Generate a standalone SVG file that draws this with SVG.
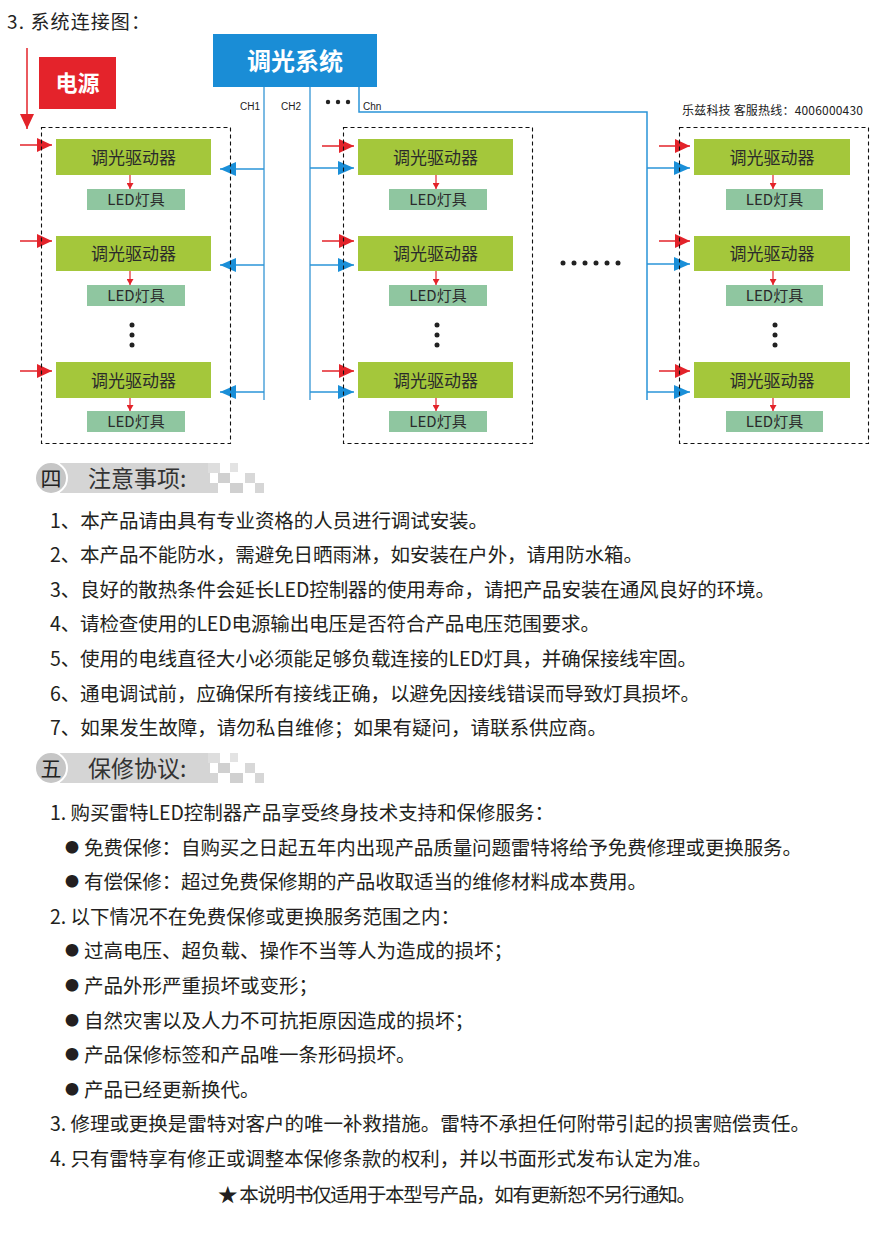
<svg xmlns="http://www.w3.org/2000/svg" xmlns:xlink="http://www.w3.org/1999/xlink" width="874" height="1233" viewBox="0 0 874 1233">
<style>
text{font-family:"Noto Sans CJK SC","Noto Sans",sans-serif;}
.drv{fill:#a4c73b;}
.led{fill:#8fc6a0;}
.dtx{font-size:17px;fill:#2b2b2b;text-anchor:middle;}
.ltx{font-size:15px;fill:#2b2b2b;text-anchor:middle;}
.dash{fill:none;stroke:#111;stroke-width:1.1;stroke-dasharray:4 3;}
.bl{stroke:#2a94d8;stroke-width:1.5;fill:none;}
.blv{stroke:#5aa9dc;stroke-width:1.6;fill:none;}
.rd{stroke:#e3232a;stroke-width:1.5;fill:none;}
.rds{stroke:#e3232a;stroke-width:1.2;fill:none;}
.ch{font-family:"Liberation Sans",Arial,sans-serif;font-size:10px;fill:#222;}
.body{font-size:19.5px;fill:#231f20;}
.hd{font-size:23px;fill:#333;}
.hn{font-size:21px;fill:#222;text-anchor:middle;}
.bul{font-size:14px;fill:#231f20;}
.dot{fill:#222;}
</style>
<defs>
<marker id="ahR" markerUnits="userSpaceOnUse" markerWidth="16" markerHeight="14" refX="15" refY="7" orient="auto"><path d="M0,0 L15,7 L0,14 z" fill="#e3232a"/></marker>
<marker id="ahB" markerUnits="userSpaceOnUse" markerWidth="17" markerHeight="14" refX="16" refY="7" orient="auto"><path d="M0,0 L16,7 L0,14 z" fill="#1a8fd8"/></marker>
<marker id="ahS" markerUnits="userSpaceOnUse" markerWidth="6" markerHeight="7" refX="6" refY="3.5" orient="auto"><path d="M0,0 L6,3.5 L0,7 z" fill="#e3232a"/></marker>
<g id="hdrbg">
<rect x="60" y="0" width="150" height="30" fill="#d5d5d5"/>
<rect x="208" y="0" width="12" height="10" fill="#dedede"/>
<rect x="230" y="0" width="8" height="9" fill="#e3e3e3"/>
<rect x="218" y="10" width="12" height="10" fill="#d0d0d0"/>
<rect x="245" y="10" width="10" height="10" fill="#d8d8d8"/>
<rect x="208" y="20" width="10" height="10" fill="#d5d5d5"/>
<rect x="230" y="20" width="13" height="10" fill="#d0d0d0"/>
<rect x="255" y="20" width="9" height="10" fill="#d6d6d6"/>
<circle cx="51" cy="15" r="16" fill="#c6c6c6" stroke="#fff" stroke-width="2"/>
</g>
</defs>
<rect width="874" height="1233" fill="#fff"/>

<g id="title"><text x="7" y="29" font-size="19" fill="#222" textLength="143">3. 系统连接图：</text></g>

<g id="connectors">
<line class="rd" x1="27" y1="48" x2="27" y2="129" marker-end="url(#ahR)"/>
<polyline class="blv" points="264,87 264,400"/>
<polyline class="blv" points="310,87 310,400"/>
<polyline class="bl" points="359,87 359,112 647,112 647,400"/>
<line class="bl" x1="264" y1="169" x2="220" y2="169" marker-end="url(#ahB)"/>
<line class="bl" x1="264" y1="265" x2="220" y2="265" marker-end="url(#ahB)"/>
<line class="bl" x1="264" y1="392" x2="220" y2="392" marker-end="url(#ahB)"/>
<line class="bl" x1="310" y1="168" x2="354" y2="168" marker-end="url(#ahB)"/>
<line class="bl" x1="310" y1="265" x2="354" y2="265" marker-end="url(#ahB)"/>
<line class="bl" x1="310" y1="392" x2="354" y2="392" marker-end="url(#ahB)"/>
<line class="bl" x1="647" y1="168" x2="690" y2="168" marker-end="url(#ahB)"/>
<line class="bl" x1="647" y1="264" x2="690" y2="264" marker-end="url(#ahB)"/>
<line class="bl" x1="647" y1="392" x2="690" y2="392" marker-end="url(#ahB)"/>
<line class="rd" x1="20" y1="145" x2="52" y2="145" marker-end="url(#ahR)"/>
<line class="rd" x1="20" y1="241" x2="52" y2="241" marker-end="url(#ahR)"/>
<line class="rd" x1="20" y1="371" x2="52" y2="371" marker-end="url(#ahR)"/>
<line class="rd" x1="322" y1="146" x2="354" y2="146" marker-end="url(#ahR)"/>
<line class="rd" x1="322" y1="241" x2="354" y2="241" marker-end="url(#ahR)"/>
<line class="rd" x1="322" y1="371" x2="354" y2="371" marker-end="url(#ahR)"/>
<line class="rd" x1="659" y1="146" x2="690" y2="146" marker-end="url(#ahR)"/>
<line class="rd" x1="659" y1="241" x2="690" y2="241" marker-end="url(#ahR)"/>
<line class="rd" x1="659" y1="371" x2="690" y2="371" marker-end="url(#ahR)"/>
<line class="rds" x1="130" y1="175" x2="130" y2="189" marker-end="url(#ahS)"/>
<line class="rds" x1="130" y1="271" x2="130" y2="285" marker-end="url(#ahS)"/>
<line class="rds" x1="130" y1="398" x2="130" y2="411" marker-end="url(#ahS)"/>
<line class="rds" x1="436" y1="175" x2="436" y2="189" marker-end="url(#ahS)"/>
<line class="rds" x1="436" y1="271" x2="436" y2="285" marker-end="url(#ahS)"/>
<line class="rds" x1="436" y1="398" x2="436" y2="411" marker-end="url(#ahS)"/>
<line class="rds" x1="773" y1="175" x2="773" y2="189" marker-end="url(#ahS)"/>
<line class="rds" x1="773" y1="271" x2="773" y2="285" marker-end="url(#ahS)"/>
<line class="rds" x1="773" y1="398" x2="773" y2="411" marker-end="url(#ahS)"/>
</g>

<g id="dimmer-system">
<rect x="213" y="34" width="164" height="53" fill="#1a8dd6"/>
<text x="295" y="70" font-size="24" font-weight="bold" fill="#fff" text-anchor="middle">调光系统</text>
</g>
<g id="power">
<rect x="39" y="57" width="77" height="52" fill="#e4232b"/>
<text x="77.5" y="91" font-size="22" font-weight="bold" fill="#fff" text-anchor="middle">电源</text>
</g>
<g id="channel-labels">
<text class="ch" x="240" y="110">CH1</text>
<text class="ch" x="281" y="110">CH2</text>
<circle class="dot" cx="328" cy="102" r="2.2"/><circle class="dot" cx="338" cy="102" r="2.2"/><circle class="dot" cx="348" cy="102" r="2.2"/>
<text class="ch" x="363" y="110">Chn</text>
</g>
<g id="hotline"><text x="682" y="115" font-size="12" fill="#222" textLength="181">乐兹科技 客服热线：4006000430</text></g>

<g id="group1">
<rect class="dash" x="41.5" y="127.5" width="189" height="316"/>
<g id="g1-d1"><rect class="drv" x="56" y="139" width="155" height="36"/><text class="dtx" x="133.5" y="163.5">调光驱动器</text></g>
<g id="g1-l1"><rect class="led" x="87" y="189" width="98" height="21"/><text class="ltx" x="136" y="205">LED灯具</text></g>
<g id="g1-d2"><rect class="drv" x="56" y="236" width="155" height="35"/><text class="dtx" x="133.5" y="260">调光驱动器</text></g>
<g id="g1-l2"><rect class="led" x="87" y="285" width="98" height="21"/><text class="ltx" x="136" y="301">LED灯具</text></g>
<circle class="dot" cx="132" cy="325" r="2.5"/><circle class="dot" cx="132" cy="335" r="2.5"/><circle class="dot" cx="132" cy="345" r="2.5"/>
<g id="g1-d3"><rect class="drv" x="56" y="362" width="155" height="36"/><text class="dtx" x="133.5" y="386.5">调光驱动器</text></g>
<g id="g1-l3"><rect class="led" x="87" y="411" width="98" height="21"/><text class="ltx" x="136" y="427">LED灯具</text></g>
</g>

<g id="group2">
<rect class="dash" x="343.5" y="127.5" width="189" height="316"/>
<g id="g2-d1"><rect class="drv" x="358" y="139" width="155" height="36"/><text class="dtx" x="435.5" y="163.5">调光驱动器</text></g>
<g id="g2-l1"><rect class="led" x="389" y="189" width="98" height="21"/><text class="ltx" x="438" y="205">LED灯具</text></g>
<g id="g2-d2"><rect class="drv" x="358" y="236" width="155" height="35"/><text class="dtx" x="435.5" y="260">调光驱动器</text></g>
<g id="g2-l2"><rect class="led" x="389" y="285" width="98" height="21"/><text class="ltx" x="438" y="301">LED灯具</text></g>
<circle class="dot" cx="437" cy="325" r="2.5"/><circle class="dot" cx="437" cy="335" r="2.5"/><circle class="dot" cx="437" cy="345" r="2.5"/>
<g id="g2-d3"><rect class="drv" x="358" y="362" width="155" height="36"/><text class="dtx" x="435.5" y="386.5">调光驱动器</text></g>
<g id="g2-l3"><rect class="led" x="389" y="411" width="98" height="21"/><text class="ltx" x="438" y="427">LED灯具</text></g>
</g>

<g id="ellipsis">
<circle class="dot" cx="563" cy="263" r="2.5"/><circle class="dot" cx="574" cy="263" r="2.5"/><circle class="dot" cx="585" cy="263" r="2.5"/><circle class="dot" cx="596" cy="263" r="2.5"/><circle class="dot" cx="607" cy="263" r="2.5"/><circle class="dot" cx="618" cy="263" r="2.5"/>
</g>

<g id="group3">
<rect class="dash" x="679.5" y="127.5" width="189" height="316"/>
<g id="g3-d1"><rect class="drv" x="694" y="139" width="156" height="36"/><text class="dtx" x="772" y="163.5">调光驱动器</text></g>
<g id="g3-l1"><rect class="led" x="726" y="189" width="97" height="21"/><text class="ltx" x="774.5" y="205">LED灯具</text></g>
<g id="g3-d2"><rect class="drv" x="694" y="236" width="156" height="35"/><text class="dtx" x="772" y="260">调光驱动器</text></g>
<g id="g3-l2"><rect class="led" x="726" y="285" width="97" height="21"/><text class="ltx" x="774.5" y="301">LED灯具</text></g>
<circle class="dot" cx="775" cy="325" r="2.5"/><circle class="dot" cx="775" cy="335" r="2.5"/><circle class="dot" cx="775" cy="345" r="2.5"/>
<g id="g3-d3"><rect class="drv" x="694" y="362" width="156" height="36"/><text class="dtx" x="772" y="386.5">调光驱动器</text></g>
<g id="g3-l3"><rect class="led" x="726" y="411" width="97" height="21"/><text class="ltx" x="774.5" y="427">LED灯具</text></g>
</g>

<g id="section4">
<use xlink:href="#hdrbg" href="#hdrbg" x="0" y="463"/>
<text class="hn" x="51" y="486">四</text>
<text class="hd" x="88" y="486.5">注意事项:</text>
<text class="body" x="50" y="527.5" textLength="438">1、本产品请由具有专业资格的人员进行调试安装。</text>
<text class="body" x="50" y="562" textLength="593">2、本产品不能防水，需避免日晒雨淋，如安装在户外，请用防水箱。</text>
<text class="body" x="50" y="596.7" textLength="725">3、良好的散热条件会延长LED控制器的使用寿命，请把产品安装在通风良好的环境。</text>
<text class="body" x="50" y="631.3" textLength="550">4、请检查使用的LED电源输出电压是否符合产品电压范围要求。</text>
<text class="body" x="50" y="665.9" textLength="647">5、使用的电线直径大小必须能足够负载连接的LED灯具，并确保接线牢固。</text>
<text class="body" x="50" y="700.5" textLength="650">6、通电调试前，应确保所有接线正确，以避免因接线错误而导致灯具损坏。</text>
<text class="body" x="50" y="735.1" textLength="557">7、如果发生故障，请勿私自维修；如果有疑问，请联系供应商。</text>
</g>

<g id="section5">
<use xlink:href="#hdrbg" href="#hdrbg" x="0" y="753"/>
<text class="hn" x="51" y="776">五</text>
<text class="hd" x="88" y="776.5">保修协议:</text>
<text class="body" x="50" y="820" textLength="504">1. 购买雷特LED控制器产品享受终身技术支持和保修服务：</text>
<text class="body" x="65" y="854.6"><tspan class="bul" dy="-3">●</tspan><tspan x="84" dy="3" textLength="718">免费保修：自购买之日起五年内出现产品质量问题雷特将给予免费修理或更换服务。</tspan></text>
<text class="body" x="65" y="889.2"><tspan class="bul" dy="-3">●</tspan><tspan x="84" dy="3" textLength="563">有偿保修：超过免费保修期的产品收取适当的维修材料成本费用。</tspan></text>
<text class="body" x="50" y="923.8" textLength="410">2. 以下情况不在免费保修或更换服务范围之内：</text>
<text class="body" x="65" y="958.4"><tspan class="bul" dy="-3">●</tspan><tspan x="84" dy="3" textLength="429">过高电压、超负载、操作不当等人为造成的损坏；</tspan></text>
<text class="body" x="65" y="993"><tspan class="bul" dy="-3">●</tspan><tspan x="84" dy="3">产品外形严重损坏或变形；</tspan></text>
<text class="body" x="65" y="1027.6"><tspan class="bul" dy="-3">●</tspan><tspan x="84" dy="3">自然灾害以及人力不可抗拒原因造成的损坏；</tspan></text>
<text class="body" x="65" y="1062.2"><tspan class="bul" dy="-3">●</tspan><tspan x="84" dy="3">产品保修标签和产品唯一条形码损坏。</tspan></text>
<text class="body" x="65" y="1096.8"><tspan class="bul" dy="-3">●</tspan><tspan x="84" dy="3">产品已经更新换代。</tspan></text>
<text class="body" x="50" y="1131.4" textLength="760">3. 修理或更换是雷特对客户的唯一补救措施。雷特不承担任何附带引起的损害赔偿责任。</text>
<text class="body" x="50" y="1166" textLength="662">4. 只有雷特享有修正或调整本保修条款的权利，并以书面形式发布认定为准。</text>
<text class="body" x="218" y="1202" font-size="18.5" textLength="478">★ 本说明书仅适用于本型号产品，如有更新恕不另行通知。</text>
</g>
</svg>
